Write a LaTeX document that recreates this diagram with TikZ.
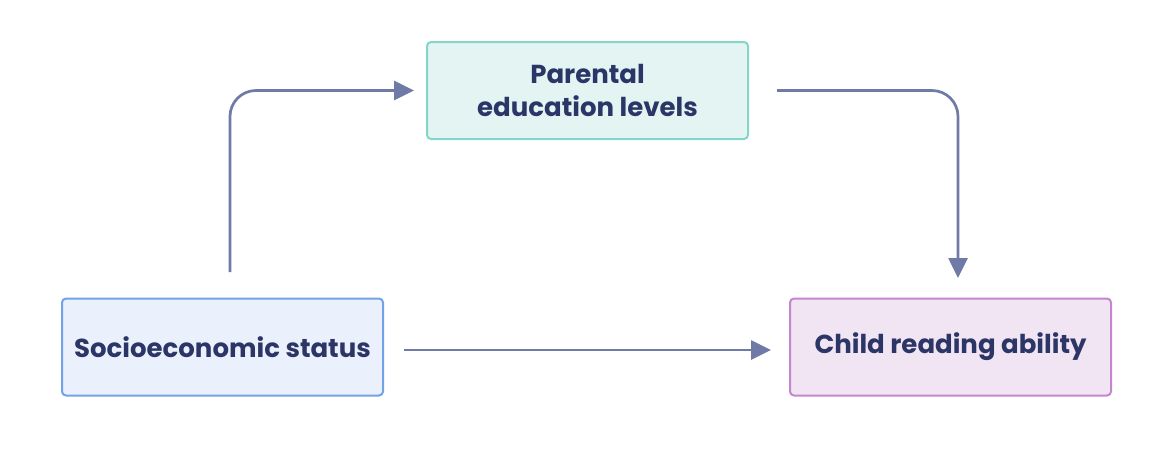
\documentclass[tikz,border=0pt]{standalone}
\usepackage{fontspec}
\setmainfont{Poppins}
\usetikzlibrary{arrows.meta,positioning}
\definecolor{inkblue}{HTML}{2B3566}
\definecolor{arrowgray}{HTML}{6F7AA6}
\definecolor{tealfill}{HTML}{E3F4F3}
\definecolor{tealline}{HTML}{86D5CA}
\definecolor{bluefill}{HTML}{EAF1FC}
\definecolor{blueline}{HTML}{72A2E8}
\definecolor{pinkfill}{HTML}{F1E4F3}
\definecolor{pinkline}{HTML}{C486CE}
\begin{document}
\begin{tikzpicture}[x=1pt,y=-1pt,
    main node/.style={rectangle, rounded corners=4pt, line width=2pt, minimum width=321pt, minimum height=97pt, align=center, text=inkblue, font=\fontsize{26}{33}\selectfont\bfseries},
    link/.style={draw=arrowgray, line width=2.7pt, rounded corners=26pt, -{Triangle[length=20pt,width=19pt]}}]
        \useasboundingbox (0,0) rectangle (1162,466);

          \node[main node, fill=tealfill, draw=tealline] (parent) at (587.5,90.5) {Parental\\education levels};
          \node[main node, fill=bluefill, draw=blueline] (ses) at (222.5,347) {Socioeconomic status};
          \node[main node, fill=pinkfill, draw=pinkline] (child) at (950.5,347) {Child reading ability};

          \coordinate (up) at (230,272);
          \coordinate (down) at (958,278);

          \draw[link] (up) |- ([xshift=-12pt]parent.west);
          \draw[link] ([xshift=28pt]parent.east) -| (down);
          \draw[link] ([xshift=20pt,yshift=-3pt]ses.east) -- ([xshift=-18pt,yshift=-3pt]child.west);

\end{tikzpicture}
\end{document}
